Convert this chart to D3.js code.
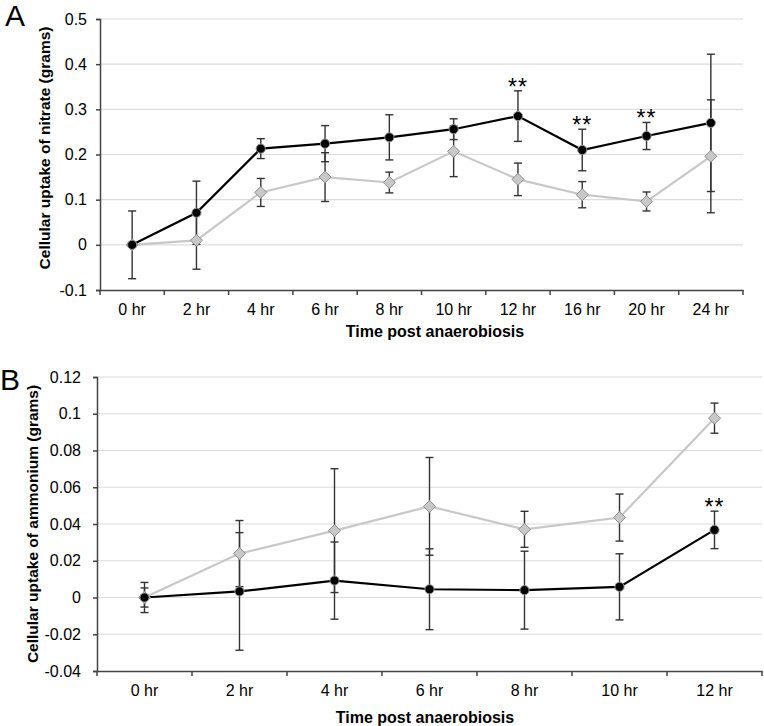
<!DOCTYPE html>
<html>
<head>
<meta charset="utf-8">
<script src="https://cdn.jsdelivr.net/npm/d3@7"></script>
<style>
  body { margin: 0; background: #fff; }
  svg { font-family: "Liberation Sans", Arial, sans-serif; display: block; }
</style>
</head>
<body>
<div id="holder"></div>
<script>
const W = 764;
const H = 726;

// ---- panel A : nitrate ----
const hoursA = ["0 hr", "2 hr", "4 hr", "6 hr", "8 hr", "10 hr", "12 hr", "16 hr", "20 hr", "24 hr"];
const nitrateBlack = [0, 0.071, 0.213, 0.224, 0.238, 0.256, 0.285, 0.210, 0.241, 0.270];
const nitrateBlackErr = [0.075, 0.070, 0.022, 0.040, 0.050, 0.023, 0.056, 0.046, 0.030, 0.152];
const nitrateGray = [0, 0.010, 0.116, 0.150, 0.138, 0.207, 0.145, 0.111, 0.096, 0.196];
const nitrateGrayErr = [0.004, 0.064, 0.031, 0.054, 0.023, 0.056, 0.036, 0.029, 0.021, 0.125];
const nitrateStars = ["12 hr", "16 hr", "20 hr"];
const ticksA = [-0.1, 0, 0.1, 0.2, 0.3, 0.4, 0.5];

// ---- panel B : ammonium ----
const hoursB = ["0 hr", "2 hr", "4 hr", "6 hr", "8 hr", "10 hr", "12 hr"];
const ammBlack = [0, 0.0033, 0.0092, 0.0045, 0.0040, 0.0058, 0.0368];
const ammBlackErr = [0.0082, 0.032, 0.021, 0.022, 0.0212, 0.018, 0.0102];
const ammGray = [0, 0.0239, 0.0364, 0.0496, 0.0371, 0.0435, 0.0976];
const ammGrayErr = [0.0052, 0.018, 0.0337, 0.0266, 0.0098, 0.0128, 0.0082];
const ammStars = ["12 hr"];
const ticksB = [-0.04, -0.02, 0, 0.02, 0.04, 0.06, 0.08, 0.1, 0.12];

const svg = d3.select("#holder")
    .append("svg")
    .attr("width", W)
    .attr("height", H);

const fmt = d => String(+d.toFixed(2));

function panel(opt) {
    const g = svg.append("g");
    const x = d3.scaleBand().domain(opt.cats).range([opt.left, opt.right]).padding(0);
    const y = d3.scaleLinear().domain([opt.ticks[0], opt.ticks[opt.ticks.length - 1]]).range([opt.bottom, opt.top]);

    // gridlines
    g.append("g")
        .selectAll("line")
        .data(opt.ticks.slice(1))
        .enter()
        .append("line")
        .attr("x1", opt.left).attr("x2", opt.right)
        .attr("y1", d => y(d)).attr("y2", d => y(d))
        .attr("stroke", "#dcdcdc").attr("stroke-width", 1.2);

    // y axis
    const ya = g.append("g")
        .attr("transform", `translate(${opt.left},0)`)
        .call(d3.axisLeft(y).tickValues(opt.ticks).tickFormat(fmt).tickSize(4).tickPadding(opt.yPad));
    ya.select(".domain").attr("stroke", "#444").attr("stroke-width", 1.5);
    ya.selectAll(".tick line").attr("stroke", "#444").attr("stroke-width", 1.5);
    ya.selectAll("text").attr("font-size", 16).attr("fill", "#000").attr("font-family", null);

    // x axis: labels at band centres, ticks at band edges
    const xa = g.append("g")
        .attr("transform", `translate(0,${opt.bottom})`)
        .call(d3.axisBottom(x).tickSize(0).tickPadding(14));
    xa.select(".domain").attr("stroke", "#444").attr("stroke-width", 1.5);
    xa.selectAll("text").attr("font-size", 16).attr("fill", "#000").attr("font-family", null);

    const edge = d3.scaleLinear().domain([0, opt.cats.length]).range([opt.left, opt.right]);
    g.append("g")
        .selectAll("line")
        .data(d3.range(opt.cats.length + 1))
        .enter()
        .append("line")
        .attr("x1", d => edge(d)).attr("x2", d => edge(d))
        .attr("y1", opt.bottom).attr("y2", opt.bottom + 5)
        .attr("stroke", "#444").attr("stroke-width", 1.5);

    const cx = i => x(opt.cats[i]) + x.bandwidth() / 2;
    const line = d3.line().x((d, i) => cx(i)).y(d => y(d));

    g.append("path").datum(opt.gray).attr("d", line)
        .attr("fill", "none").attr("stroke", "#c8c8c8").attr("stroke-width", 2.2);
    g.append("path").datum(opt.black).attr("d", line)
        .attr("fill", "none").attr("stroke", "#000").attr("stroke-width", 2.2);

    // error bars
    const bars = [];
    opt.gray.forEach((v, i) => bars.push({ i: i, v: v, e: opt.grayErr[i] }));
    opt.black.forEach((v, i) => bars.push({ i: i, v: v, e: opt.blackErr[i] }));
    const eb = g.append("g").attr("stroke", "#333").attr("stroke-width", 1.4);
    bars.forEach(b => {
        const px = cx(b.i);
        eb.append("line").attr("x1", px).attr("x2", px).attr("y1", y(b.v - b.e)).attr("y2", y(b.v + b.e));
        eb.append("line").attr("x1", px - 4).attr("x2", px + 4).attr("y1", y(b.v - b.e)).attr("y2", y(b.v - b.e));
        eb.append("line").attr("x1", px - 4).attr("x2", px + 4).attr("y1", y(b.v + b.e)).attr("y2", y(b.v + b.e));
    });

    // markers
    g.append("g")
        .selectAll("path")
        .data(opt.gray)
        .enter()
        .append("path")
        .attr("d", (d, i) => `M${cx(i)},${y(d) - 6}l6,6l-6,6l-6,-6z`)
        .attr("fill", "#c8c8c8").attr("stroke", "#8c8c8c").attr("stroke-width", 1);
    g.append("g")
        .selectAll("circle")
        .data(opt.black)
        .enter()
        .append("circle")
        .attr("cx", (d, i) => cx(i)).attr("cy", d => y(d)).attr("r", 4.6)
        .attr("fill", "#000").attr("stroke", "#999").attr("stroke-width", 1);

    // significance stars
    g.append("g")
        .selectAll("text")
        .data(opt.stars)
        .enter()
        .append("text")
        .attr("x", d => x(d) + x.bandwidth() / 2)
        .attr("y", d => { const i = opt.cats.indexOf(d); return y(opt.black[i] + opt.blackErr[i]) + 4; })
        .attr("text-anchor", "middle")
        .attr("font-size", 23)
        .attr("letter-spacing", 1)
        .text("**");

    // titles
    g.append("text")
        .attr("transform", `translate(${opt.yTitleX},${opt.yTitleY}) rotate(-90)`)
        .attr("text-anchor", "middle").attr("dy", "0.35em")
        .attr("font-size", 15.5).attr("font-weight", "bold")
        .text(opt.yTitle);
    g.append("text")
        .attr("x", opt.xTitleX).attr("y", opt.xTitleY)
        .attr("text-anchor", "middle")
        .attr("font-size", 16).attr("font-weight", "bold")
        .text("Time post anaerobiosis");
    g.append("text")
        .attr("x", opt.letterX).attr("y", opt.letterY)
        .attr("font-size", 30)
        .text(opt.letter);
}

panel({
    cats: hoursA, black: nitrateBlack, blackErr: nitrateBlackErr,
    gray: nitrateGray, grayErr: nitrateGrayErr, stars: nitrateStars, ticks: ticksA,
    left: 100, right: 743, top: 19, bottom: 290, yPad: 9,
    yTitle: "Cellular uptake of nitrate (grams)", yTitleX: 45, yTitleY: 148,
    xTitleX: 435, xTitleY: 337, letter: "A", letterX: 5, letterY: 26
});

panel({
    cats: hoursB, black: ammBlack, blackErr: ammBlackErr,
    gray: ammGray, grayErr: ammGrayErr, stars: ammStars, ticks: ticksB,
    left: 97, right: 762, top: 377, bottom: 671, yPad: 12,
    yTitle: "Cellular uptake of ammonium (grams)", yTitleX: 33, yTitleY: 524,
    xTitleX: 425, xTitleY: 723, letter: "B", letterX: 0, letterY: 390
});
</script>
</body>
</html>
